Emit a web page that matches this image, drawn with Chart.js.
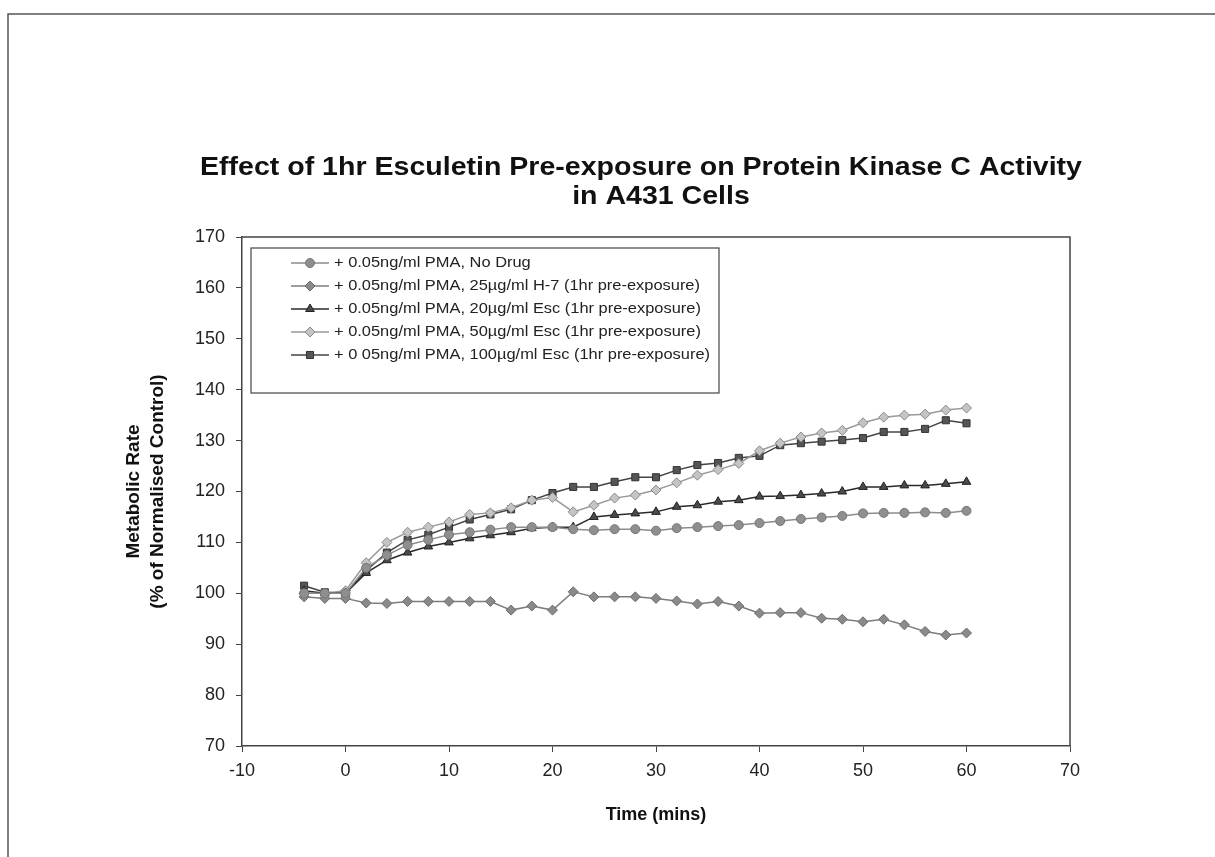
<!DOCTYPE html>
<html>
<head>
<meta charset="utf-8">
<script src="https://cdn.jsdelivr.net/npm/chart.js@4/dist/chart.umd.min.js"></script>
<style>
  html, body { margin: 0; padding: 0; background: #fff; }
  #wrap { width: 1215px; height: 857px; position: relative; }
</style>
</head>
<body>
<div id="wrap"><canvas id="chart" width="1215" height="857"></canvas></div>
<script>
// time points (mins)
const times = [-4, -2, 0, 2, 4, 6, 8, 10, 12, 14, 16, 18, 20, 22, 24, 26, 28, 30,
  32, 34, 36, 38, 40, 42, 44, 46, 48, 50, 52, 54, 56, 58, 60];

const noDrug = [100, 100, 100, 105, 107.5, 109.5, 110.5, 111.5, 112, 112.5, 113, 113, 113,
  112.6, 112.4, 112.6, 112.6, 112.3, 112.8, 113, 113.2, 113.4, 113.8, 114.2, 114.6, 114.9,
  115.2, 115.7, 115.8, 115.8, 115.9, 115.8, 116.2];
const h7 = [99.3, 99, 99, 98.1, 98, 98.4, 98.4, 98.4, 98.4, 98.4, 96.7, 97.5, 96.7,
  100.3, 99.3, 99.3, 99.3, 99, 98.5, 97.9, 98.4, 97.5, 96.1, 96.2, 96.2, 95.1, 94.9,
  94.4, 94.9, 93.8, 92.5, 91.8, 92.2];
const esc20 = [100.5, 100, 100, 104, 106.5, 108, 109.2, 110, 110.8, 111.4, 112, 112.8, 113,
  113, 115, 115.4, 115.7, 116, 117, 117.3, 118, 118.3, 119, 119.1, 119.3, 119.6, 120,
  120.9, 120.9, 121.2, 121.2, 121.5, 121.9];
const esc50 = [100, 100, 100.5, 106, 110, 112, 113, 114, 115.5, 115.8, 116.8, 118.3, 118.8,
  116, 117.3, 118.7, 119.3, 120.3, 121.7, 123.2, 124.3, 125.5, 128, 129.5, 130.7, 131.5,
  132, 133.5, 134.6, 135, 135.2, 136, 136.4];
const esc100 = [101.5, 100.2, 100, 104.5, 108, 110.5, 111.5, 113, 114.5, 115.5, 116.5, 118.3,
  119.7, 120.9, 120.9, 121.9, 122.8, 122.8, 124.2, 125.2, 125.6, 126.6, 127, 129.1, 129.5,
  129.8, 130.1, 130.5, 131.7, 131.7, 132.3, 134, 133.4];

const seriesLabels = [
  '+ 0.05ng/ml PMA, No Drug',
  '+ 0.05ng/ml PMA, 25µg/ml H-7 (1hr pre-exposure)',
  '+ 0.05ng/ml PMA, 20µg/ml Esc (1hr pre-exposure)',
  '+ 0.05ng/ml PMA, 50µg/ml Esc (1hr pre-exposure)',
  '+ 0 05ng/ml PMA, 100µg/ml Esc (1hr pre-exposure)'
];
const titleLines = ['Effect of 1hr Esculetin Pre-exposure on Protein Kinase C Activity', 'in A431 Cells'];
const yTitle = ['Metabolic Rate', '(% of Normalised Control)'];
const xTitle = 'Time (mins)';

const FONT = "'Liberation Sans', Arial, sans-serif";

function pts(vals) {
  return vals.map((v, i) => ({ x: times[i], y: v }));
}

function series(label, vals, style, fill, border, line, radius) {
  return {
    label: label,
    data: pts(vals),
    pointStyle: style,
    pointRadius: radius,
    pointBackgroundColor: fill,
    pointBorderColor: border,
    pointBorderWidth: 1,
    borderColor: line,
    borderWidth: 1.5,
    tension: 0,
    fill: false
  };
}

const datasets = [
  series(seriesLabels[0], noDrug, 'circle', '#8f8f8f', '#777', '#8c8c8c', 4.5),
  series(seriesLabels[1], h7, 'rectRot', '#8a8a8a', '#6c6c6c', '#7c7c7c', 5),
  series(seriesLabels[2], esc20, 'triangle', '#4a4a4a', '#222', '#2a2a2a', 5),
  series(seriesLabels[3], esc50, 'rectRot', '#c4c4c4', '#8a8a8a', '#9a9a9a', 5),
  series(seriesLabels[4], esc100, 'rect', '#555', '#333', '#444', 5)
];

// text stretched sideways a little, the scan is wider than the stock font
function wideText(ctx, text, x, y, stretch) {
  ctx.save();
  ctx.translate(x, y);
  ctx.scale(stretch, 1);
  ctx.fillText(text, 0, 0);
  ctx.restore();
}

// title, frame and legend box
const decor = {
  id: 'decor',
  beforeDraw(chart) {
    const ctx = chart.ctx;
    ctx.save();
    ctx.fillStyle = '#fff';
    ctx.fillRect(0, 0, chart.width, chart.height);
    ctx.restore();
  },
  afterDraw(chart) {
    const ctx = chart.ctx;
    const a = chart.chartArea;
    ctx.save();
    // outer page frame
    ctx.strokeStyle = '#555';
    ctx.lineWidth = 1.5;
    ctx.beginPath();
    ctx.moveTo(8, 857);
    ctx.lineTo(8, 14);
    ctx.lineTo(1215, 14);
    ctx.stroke();

    // plot frame (top + right)
    ctx.strokeStyle = '#444';
    ctx.beginPath();
    ctx.moveTo(a.left, a.top);
    ctx.lineTo(a.right, a.top);
    ctx.lineTo(a.right, a.bottom);
    ctx.stroke();

    // chart title
    ctx.fillStyle = '#111';
    ctx.font = 'bold 25px ' + FONT;
    ctx.textAlign = 'center';
    ctx.textBaseline = 'middle';
    const tStretch = 882 / ctx.measureText(titleLines[0]).width;
    wideText(ctx, titleLines[0], 641, 168, tStretch);
    wideText(ctx, titleLines[1], 661, 197, tStretch);

    // legend
    const lx = 251, ly = 248, lw = 468, lh = 145;
    ctx.fillStyle = '#fff';
    ctx.fillRect(lx, ly, lw, lh);
    ctx.strokeStyle = '#444';
    ctx.lineWidth = 1.2;
    ctx.strokeRect(lx, ly, lw, lh);
    ctx.font = '14px ' + FONT;
    ctx.textAlign = 'left';
    const lStretch = 376 / ctx.measureText(seriesLabels[4]).width;
    chart.data.datasets.forEach((ds, i) => {
      const y = 263 + i * 23;
      ctx.strokeStyle = ds.borderColor;
      ctx.lineWidth = 1.5;
      ctx.beginPath();
      ctx.moveTo(291, y);
      ctx.lineTo(329, y);
      ctx.stroke();
      ctx.fillStyle = ds.pointBackgroundColor;
      ctx.strokeStyle = ds.pointBorderColor;
      ctx.lineWidth = 1;
      Chart.helpers.drawPoint(ctx, { pointStyle: ds.pointStyle, radius: ds.pointRadius, rotation: 0, borderWidth: 1 }, 310, y);
      ctx.fillStyle = '#222';
      wideText(ctx, ds.label, 334, y, lStretch);
    });
    ctx.restore();
  }
};

new Chart(document.getElementById('chart'), {
  type: 'line',
  data: { datasets: datasets },
  plugins: [decor],
  options: {
    responsive: false,
    animation: false,
    layout: { padding: { left: 110, right: 145, top: 237, bottom: 20 } },
    plugins: {
      legend: { display: false },
      title: { display: false },
      tooltip: { enabled: false }
    },
    scales: {
      x: {
        type: 'linear',
        min: -10,
        max: 70,
        afterFit: (s) => { s.height = 91; },
        ticks: { stepSize: 10, color: '#222', font: { family: FONT, size: 18 }, padding: 8 },
        grid: { drawOnChartArea: false, tickLength: 6, color: '#444' },
        border: { color: '#444', width: 1.5 },
        title: {
          display: true, text: xTitle, color: '#111',
          font: { family: FONT, size: 18, weight: 'bold' }, padding: { top: 0, bottom: 11 }
        }
      },
      y: {
        min: 70,
        max: 170,
        afterFit: (s) => { s.width = 132; },
        ticks: { stepSize: 10, color: '#222', font: { family: FONT, size: 18 }, padding: 11 },
        grid: { drawOnChartArea: false, tickLength: 6, color: '#444' },
        border: { color: '#444', width: 1.5 },
        title: {
          display: true, text: yTitle, color: '#111',
          font: { family: FONT, size: 19, weight: 'bold', lineHeight: 1.3 }, padding: { top: 11, bottom: 0 }
        }
      }
    }
  }
});
</script>
</body>
</html>
